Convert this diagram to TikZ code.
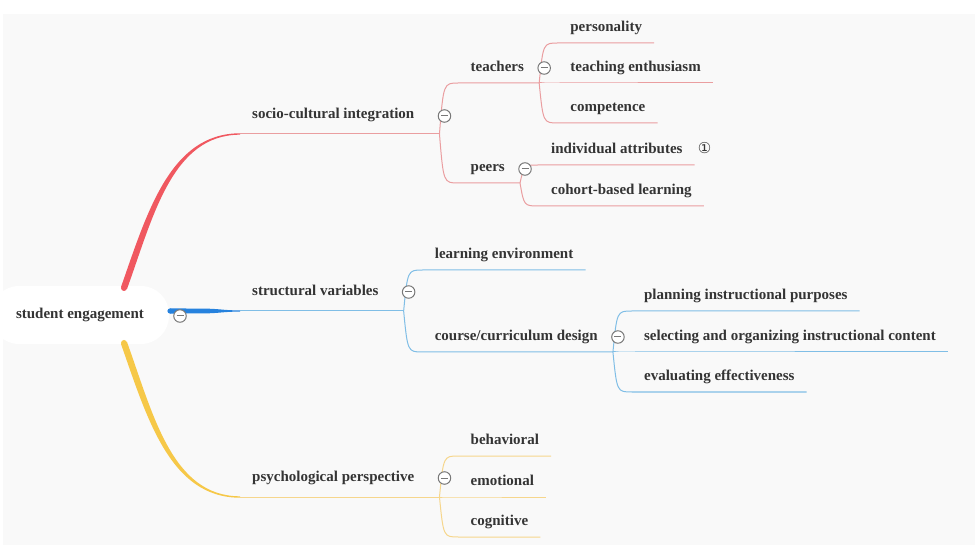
\documentclass[tikz,border=0pt]{standalone}
\usepackage{fontspec}
\setmainfont{Liberation Serif}
\newfontfamily\symfont{DejaVu Sans}
\usetikzlibrary{positioning,calc}

\definecolor{pagegray}{RGB}{249,249,249}
\definecolor{txtgray}{RGB}{52,52,52}
\definecolor{foldgray}{RGB}{120,120,120}
\definecolor{redmain}{RGB}{240,88,96}
\definecolor{redthin}{RGB}{234,158,160}
\definecolor{bluemain}{RGB}{38,130,222}
\definecolor{bluethin}{RGB}{128,190,230}
\definecolor{yelmain}{RGB}{246,200,72}
\definecolor{yelthin}{RGB}{246,214,140}

\tikzset{
    topic/.style={anchor=south west, inner xsep=12pt, inner ysep=11.5pt, text height=10pt, text depth=4pt,
                  text=txtgray, font=\fontsize{15}{18}\selectfont\bfseries},
    subtopic/.style={topic, inner ysep=7.5pt},
    rootbox/.style={fill=white, rounded corners=28pt, minimum height=58pt, inner xsep=25pt,
                  text=txtgray, font=\fontsize{15}{18}\selectfont\bfseries},
    fold/.style={circle, draw=foldgray, fill=white, line width=1pt, minimum size=12.5pt, inner sep=0pt,
                  path picture={\draw[foldgray, line width=1pt]
                      ([xshift=-3.5pt]path picture bounding box.center) -- ([xshift=3.5pt]path picture bounding box.center);}},
    redln/.style={draw=redthin, line width=1pt},
    blueln/.style={draw=bluethin, line width=1pt},
    yelln/.style={draw=yelthin, line width=1pt}
}

\begin{document}
\begin{tikzpicture}[x=1pt, y=-1pt]
    % page
    \fill[white] (0,0) rectangle (975,545);
    \fill[pagegray] (3,14) rectangle (975,545);
    \useasboundingbox (0,0) rectangle (975,545);

    \node[rootbox] (root) at (80,315) {student engagement};
    \coordinate (rootN) at (124,288);
    \coordinate (rootE) at (170,311);
    \coordinate (rootS) at (124,343);

    % main topics
    \node[topic] (sci) at (240,134) {socio-cultural integration};
    \node[topic] (sv)  at (240,311) {structural variables};
    \node[topic] (pp)  at (240,497) {psychological perspective};
    \coordinate (scib) at ($(sci.south east)+(13,0)$);
    \coordinate (svb)  at ($(sv.south east)+(13,0)$);
    \coordinate (ppb)  at ($(pp.south east)+(13,0)$);

    % socio-cultural integration
    \node[subtopic] (tea)  at ($(scib)+(19,-51)$) {teachers};
    \node[subtopic] (peer) at ($(scib)+(19,49)$) {peers};
    \coordinate (teab)  at ($(tea.south east)+(3,0)$);
    \coordinate (peerb) at ($(peer.south east)+(3,0)$);
    \node[subtopic] (pers) at ($(teab)+(19,-40)$) {personality};
    \node[subtopic] (ten)  at ($(teab)+(19,0)$) {teaching enthusiasm};
    \node[subtopic] (comp) at ($(teab)+(19,40)$) {competence};
    \node[subtopic] (ia)   at ($(peerb)+(19,-18)$) {individual attributes};
    \node[subtopic] (cbl)  at ($(peerb)+(19,23)$) {cohort-based learning};
    \node[anchor=base west, inner sep=0pt, text=txtgray, font=\symfont\fontsize{15}{17}\selectfont] (note)
        at ($(ia.base east)+(3,0)$) {①};

    % structural variables
    \node[subtopic] (le)  at ($(svb)+(19,-41)$) {learning environment};
    \node[subtopic] (ccd) at ($(svb)+(19,41)$) {course/curriculum design};
    \coordinate (ccdb) at ($(ccd.south east)+(3,0)$);
    \node[subtopic] (pip) at ($(ccdb)+(19,-41)$) {planning instructional purposes};
    \node[subtopic] (soc) at ($(ccdb)+(19,0)$) {selecting and organizing instructional content};
    \node[subtopic] (ee)  at ($(ccdb)+(19,40)$) {evaluating effectiveness};

    % psychological perspective
    \node[subtopic] (beh) at ($(ppb)+(19,-41)$) {behavioral};
    \node[subtopic] (emo) at ($(ppb)+(19,0)$) {emotional};
    \node[subtopic] (cog) at ($(ppb)+(19,40)$) {cognitive};

    % thick branches from the root
    \fill[redmain] ($(rootN)+(-3,-1)$) .. controls +(26,-74) and +(-70,0) .. ($(sci.south west)+(0,-0.7)$)
        -- ($(sci.south west)+(0,0.7)$) .. controls +(-68,0) and +(26,-72) .. ($(rootN)+(3,1)$) -- cycle;
    \fill[redmain] (rootN) circle (3pt);
    \fill[bluemain] ($(rootE)+(0,-2.6)$) -- ($(rootE)+(32,-2.4)$) .. controls +(18,0) and +(-18,0) .. ($(sv.south west)+(0,-0.6)$)
        -- ($(sv.south west)+(0,0.6)$) .. controls +(-18,0) and +(18,0) .. ($(rootE)+(32,2.4)$) -- ($(rootE)+(0,2.6)$) -- cycle;
    \fill[bluemain] (rootE) circle (2.6pt);
    \fill[yelmain] ($(rootS)+(-3,1)$) .. controls +(26,74) and +(-70,0) .. ($(pp.south west)+(0,0.7)$)
        -- ($(pp.south west)+(0,-0.7)$) .. controls +(-68,0) and +(26,72) .. ($(rootS)+(3,-1)$) -- cycle;
    \fill[yelmain] (rootS) circle (3pt);

    % red lines
    \draw[redln] (sci.south west) -- (scib);
    \draw[redln] (scib) .. controls ($(scib |- tea.south west)+(4,0)$) .. (tea.south west) -- (teab);
    \draw[redln] (scib) .. controls ($(scib |- peer.south west)+(4,0)$) .. (peer.south west) -- (peerb);
    \foreach \n in {pers,ten,comp}
        \draw[redln] (teab) .. controls ($(teab |- \n.south west)+(4,0)$) .. (\n.south west) -- (\n.south east);
    \foreach \n in {ia,cbl}
        \draw[redln] (peerb) .. controls ($(peerb |- \n.south west)+(4,0)$) .. (\n.south west) -- (\n.south east);

    % blue lines
    \draw[blueln] (sv.south west) -- (svb);
    \draw[blueln] (svb) .. controls ($(svb |- le.south west)+(4,0)$) .. (le.south west) -- (le.south east);
    \draw[blueln] (svb) .. controls ($(svb |- ccd.south west)+(4,0)$) .. (ccd.south west) -- (ccdb);
    \foreach \n in {pip,soc,ee}
        \draw[blueln] (ccdb) .. controls ($(ccdb |- \n.south west)+(4,0)$) .. (\n.south west) -- (\n.south east);

    % yellow lines
    \draw[yelln] (pp.south west) -- (ppb);
    \foreach \n in {beh,emo,cog}
        \draw[yelln] (ppb) .. controls ($(ppb |- \n.south west)+(4,0)$) .. (\n.south west) -- (\n.south east);

    % fold buttons
    \node[fold] (f0) at ($(rootE)+(10,5)$) {};
    \node[fold] (f1) at ($(scib)+(5,-18)$) {};
    \node[fold] (f2) at ($(svb)+(5,-19)$) {};
    \node[fold] (f3) at ($(ppb)+(5,-19)$) {};
    \node[fold] (f4) at ($(teab)+(5,-15)$) {};
    \node[fold] (f5) at ($(peerb)+(5,-14)$) {};
    \node[fold] (f6) at ($(ccdb)+(5,-15)$) {};
\end{tikzpicture}
\end{document}
